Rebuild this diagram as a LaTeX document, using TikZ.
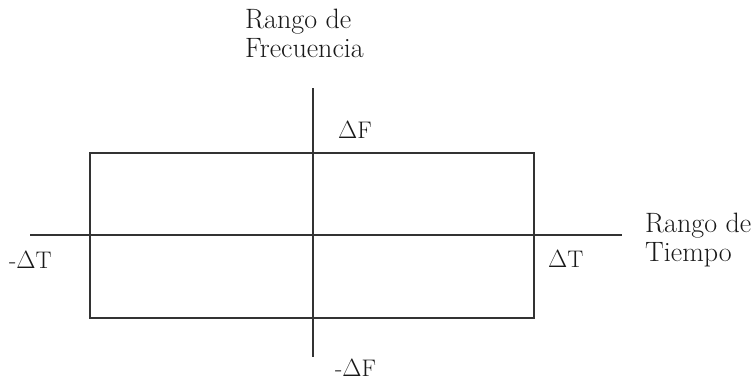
\documentclass[tikz,border=0pt]{standalone}
\begin{document}
\begin{tikzpicture}[x=1pt,y=-1pt,
  axisline/.style={line width=1.7pt,draw=black!80},
  boxline/.style={line width=1.7pt,draw=black!80},
  lbl/.style={inner sep=0pt,font=\fontsize{24}{27}\selectfont,text=black!90,align=left},
  biglbl/.style={lbl,font=\fontsize{28}{28.5}\selectfont}]
\useasboundingbox[fill=white] (0,0) rectangle (756,380);
% axes
\coordinate (vtop) at (313,88);
\coordinate (vbot) at (313,357);
\coordinate (hleft) at (30,235);
\coordinate (hright) at (622,235);
\draw[axisline] (vtop) -- (vbot);
\draw[axisline] (hleft) -- (hright);
% rectangle
\coordinate (rtl) at (90,153);
\coordinate (rbr) at (534,318);
\draw[boxline] (rtl) rectangle (rbr);
% labels
\node[biglbl,anchor=north west] (freq) at (245,9) {Rango de\\Frecuencia};
\node[biglbl,anchor=north west] (tiempo) at (645,213) {Rango de\\Tiempo};
\node[lbl,anchor=base west] (df) at (338,138) {$\Delta$F};
\node[lbl,anchor=base west] (mdf) at (335,376) {-$\Delta$F};
\node[lbl,anchor=base west] (mdt) at (9,268) {-$\Delta$T};
\node[lbl,anchor=base west] (dt) at (548,267) {$\Delta$T};
\end{tikzpicture}
\end{document}
